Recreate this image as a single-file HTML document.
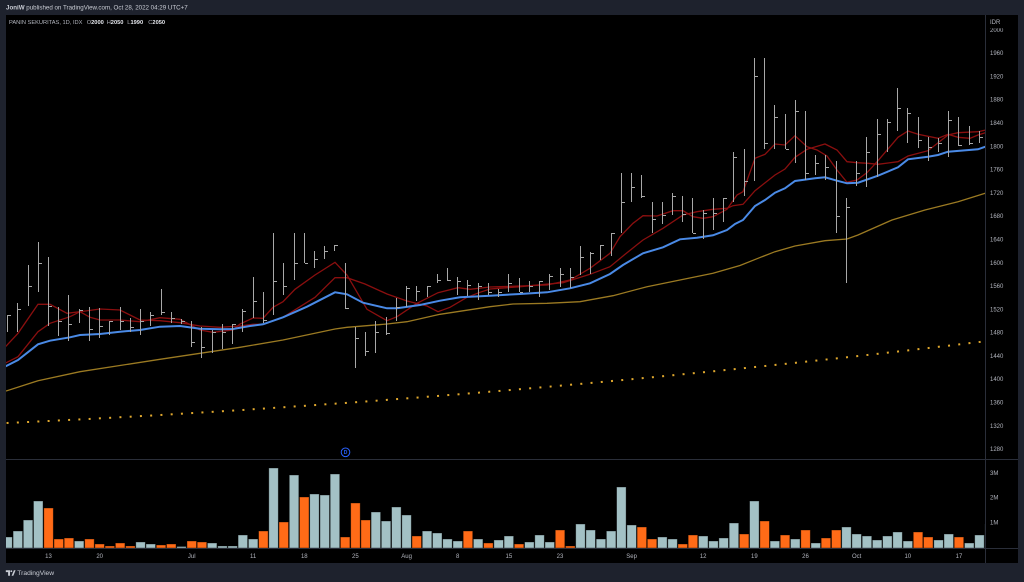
<!DOCTYPE html>
<html><head><meta charset="utf-8"><style>
html,body{margin:0;padding:0;background:#1e222d;width:1024px;height:582px;overflow:hidden}
svg{position:absolute;left:0;top:0;display:block}
</style></head><body>
<svg width="1024" height="582" viewBox="0 0 1024 582" xmlns="http://www.w3.org/2000/svg" font-family="'Liberation Sans', sans-serif">
<defs>
<clipPath id="cp"><rect x="6" y="15" width="979" height="444"/></clipPath>
<clipPath id="cv"><rect x="6" y="459.5" width="979" height="88.5"/></clipPath>
<clipPath id="c2k"><rect x="986" y="28.3" width="32" height="6"/></clipPath>
</defs>
<rect width="1024" height="582" fill="#1e222d"/>
<rect x="6" y="15" width="1012" height="548" fill="#000"/>
<!-- header -->
<text x="6" y="9.6" font-size="6.2" fill="#c9ccd4"><tspan font-weight="bold">JoniW</tspan> published on TradingView.com, Oct 28, 2022 04:29 UTC+7</text>
<!-- legend -->
<g font-size="5.7" fill="#b2b5be">
<text x="9" y="24">PANIN SEKURITAS, 1D, IDX</text>
<text x="86.7" y="24">O<tspan fill="#e6e8ee" font-weight="bold">2000</tspan></text>
<text x="106.7" y="24">H<tspan fill="#e6e8ee" font-weight="bold">2050</tspan></text>
<text x="127.3" y="24">L<tspan fill="#e6e8ee" font-weight="bold">1990</tspan></text>
<text x="148.3" y="24">C<tspan fill="#e6e8ee" font-weight="bold">2050</tspan></text>
</g>
<!-- pane borders -->
<g stroke="#2a2e39" stroke-width="1" shape-rendering="crispEdges">
<line x1="985.5" y1="15" x2="985.5" y2="563"/>
<line x1="6" y1="459.5" x2="1018" y2="459.5"/>
<line x1="6" y1="548.5" x2="1018" y2="548.5"/>
</g>
<!-- price pane -->
<g clip-path="url(#cp)">
<path d="M6.58 423.02 Q495.79 400.28 985 341.3" fill="none" stroke="#e0a82e" stroke-width="2" stroke-dasharray="2 8.27"/>
<polyline fill="none" stroke="#9b7a22" stroke-width="1.3" points="6,391 38,380.7 80,371.7 160,359.3 240,347.3 283,340 335,329 347,327.3 387,324 407,321.7 440,314.3 490,306.7 513,304 547,303.3 580,301.7 613,295.7 647,286.7 680,280 713,273.3 740,265.5 758,258.3 775,251.7 795,246 825,240.7 847,239 858,235 892,220 925,210 958,201.7 986,193"/>
<polyline fill="none" stroke="#8a0f0f" stroke-width="1.3" points="5,363.3 18,356.7 38,331.7 50,323.3 70,316.7 80,311.7 100,309 120,310 140,320 160,320.7 180,322.7 200,326 220,327.3 240,326 253,324.3 263,324.3 283,317.3 315,297.3 335,277.7 347,277.7 365,284 387,294 407,301 427,306 438,311.7 450,307.3 467,297.3 480,292.3 490,289 520,286.7 563,282.7 590,274.3 610,266.7 627,252.7 643,240 663,228.3 683,215 697,211.7 713,209.3 727,208.3 733,205.7 743,204.3 755,190.7 775,175 785,169 795,157.3 807,149.3 825,144 837,150 847,161.7 857,162.7 868,163.3 878,164.3 898,161.7 908,156 928,150.7 948,135 958,132.7 978,131.7 986,130"/>
<polyline fill="none" stroke="#8a0f0f" stroke-width="1.3" points="5,347.3 18,333.3 38,304.3 50,304.3 67,313.3 80,311.7 90,317.3 100,320 120,320 140,321.7 160,317.7 180,319.3 200,330 213,332.3 233,330 240,324 253,318 263,318.3 273,307.3 283,301.7 295,289.3 315,275 335,262.3 347,275 367,309.3 387,320.7 397,316.7 417,303.3 438,292.7 458,287.7 470,289.3 490,287 500,286.7 520,286 547,285 570,280 590,268.3 610,253.3 620,236.7 633,223.3 643,215.7 657,216 673,210.7 683,210.7 693,216.7 703,218.3 713,216.7 727,209.3 737,195 743,191.7 755,158.3 765,154.3 775,144 785,145 795,135.7 807,146.7 817,150 827,156 837,170 847,182.3 857,180 867,172.7 878,160.7 898,137.3 908,131 918,134.3 938,138.3 948,134.3 958,137.3 970,138.3 978,135 986,132.5"/>
<polyline fill="none" stroke="#4a8ae6" stroke-width="2" points="5,366.7 18,360 38,344.3 50,340.7 70,337.3 80,335 100,334 120,331.7 140,330 160,326.7 180,326 200,328.7 220,329.3 233,329 250,326 263,324.3 283,317.3 307,306.7 335,292.3 347,294.3 363,302.7 387,308.3 397,308.3 420,305 440,300.7 460,297.3 490,295.7 520,294 547,292.3 570,288.3 590,283.3 610,274 623,265 643,253.3 663,247.3 680,239.3 697,237.7 713,235.3 727,230 735,224 743,220 755,206 765,200 775,192.7 785,188.3 795,181 815,178.3 825,177.3 837,180.7 847,183.3 858,182.7 878,175.7 898,167.3 908,159.3 928,156.7 938,155 948,151.7 978,149.3 986,146.5"/>
<path fill="none" stroke="#a8a8a8" stroke-width="1" shape-rendering="crispEdges" d="M7.5 315V332M8 315.5h3M17.5 303V332M18 309.5h3M28.5 265V306M29 286.5h3M38.5 242V292M39 263.5h3M48.5 257V326M49 306.5h3M58.5 307V336M59 321.5h3M68.5 295V341M69 324.5h3M79.5 309V323M80 310.5h3M89.5 307V341M90 329.5h3M99.5 308V338M100 326.5h3M109.5 321V335M110 321.5h3M120.5 307V330M121 321.5h3M130.5 318V332M131 327.5h3M140.5 309V335M141 321.5h3M150.5 312V326M151 315.5h3M161.5 289V315M162 312.5h3M171.5 312V323M172 318.5h3M181.5 319V324M182 321.5h3M191.5 321V347M192 342.5h3M201.5 327V358M202 347.5h3M212.5 330V353M213 332.5h3M222.5 324V349M223 332.5h3M232.5 324V344M233 324.5h3M242.5 309V332M243 311.5h3M253.5 277V318M254 301.5h3M263.5 292V323M264 320.5h3M273.5 233V315M274 281.5h3M283.5 263V295M284 286.5h3M294.5 233V280M295 263.5h3M304.5 233V263M305 263.5h3M314.5 251V268M315 259.5h3M324.5 246V259M325 251.5h3M334.5 245V251M335 245.5h3M345.5 263V309M346 308.5h3M355.5 327V368M356 338.5h3M365.5 332V356M366 351.5h3M375.5 321V353M376 332.5h3M386.5 317V335M387 333.5h3M396.5 298V321M397 307.5h3M406.5 286V307M407 288.5h3M416.5 286V301M417 291.5h3M427.5 286V297M428 286.5h3M437.5 274V283M438 280.5h3M447.5 268V281M448 280.5h3M457.5 277V295M458 281.5h3M467.5 280V296M468 285.5h3M478.5 283V300M479 286.5h3M488.5 283V295M489 292.5h3M498.5 289V297M499 292.5h3M508.5 274V292M509 283.5h3M519.5 278V292M520 292.5h3M529.5 281V292M530 286.5h3M539.5 281V297M540 281.5h3M549.5 274V290M550 276.5h3M560.5 268V287M561 274.5h3M570.5 268V288M571 277.5h3M580.5 246V275M581 257.5h3M590.5 252V274M591 253.5h3M600.5 245V260M601 245.5h3M611.5 233V256M612 233.5h3M621.5 173V233M622 202.5h3M631.5 173V202M632 187.5h3M641.5 175V198M642 196.5h3M652.5 202V233M653 219.5h3M662.5 202V224M663 215.5h3M672.5 193V215M673 196.5h3M682.5 196V222M683 214.5h3M692.5 198V233M693 233.5h3M703.5 210V239M704 213.5h3M713.5 198V230M714 213.5h3M723.5 198V222M724 198.5h3M733.5 152V202M734 157.5h3M744.5 149V196M745 181.5h3M754.5 58V181M755 76.5h3M764.5 58V149M765 143.5h3M774.5 105V149M775 117.5h3M785.5 114V149M786 149.5h3M795.5 100V163M796 111.5h3M805.5 111V180M806 173.5h3M815.5 155V175M816 163.5h3M825.5 155V180M826 167.5h3M836.5 161V233M837 216.5h3M846.5 198V283M847 207.5h3M856.5 161V186M857 173.5h3M866.5 137V187M867 152.5h3M877.5 119V177M878 134.5h3M887.5 119V152M888 122.5h3M897.5 88V131M898 108.5h3M907.5 108V143M908 113.5h3M918.5 117V148M919 140.5h3M928.5 137V161M929 147.5h3M938.5 138V152M939 143.5h3M948.5 111V157M949 120.5h3M958.5 117V146M959 145.5h3M969.5 126V145M970 143.5h3M979.5 131V143M980 137.5h3"/>
</g>
<!-- dividend marker -->
<circle cx="345.5" cy="452.3" r="4.3" fill="#000" stroke="#2962ff" stroke-width="1"/>
<text x="345.5" y="454.1" font-size="5" fill="#2962ff" text-anchor="middle" font-weight="bold">D</text>
<!-- volume -->
<g clip-path="url(#cv)" stroke="#000" stroke-opacity="0.45" stroke-width="0.8">
<g fill="#a3c1c5">
<rect x="2.8" y="537" width="9.5" height="11"/><rect x="13.1" y="531" width="9.5" height="17"/><rect x="23.3" y="520" width="9.5" height="28"/><rect x="33.5" y="501" width="9.5" height="47"/><rect x="74.4" y="541" width="9.5" height="7"/><rect x="135.8" y="542" width="9.5" height="6"/><rect x="146" y="544" width="9.5" height="4"/><rect x="176.7" y="546.5" width="9.5" height="1.5"/><rect x="207.4" y="543" width="9.5" height="5"/><rect x="217.7" y="546" width="9.5" height="2"/><rect x="227.9" y="546" width="9.5" height="2"/><rect x="238.1" y="535" width="9.5" height="13"/><rect x="248.4" y="539" width="9.5" height="9"/><rect x="268.8" y="468" width="9.5" height="80"/><rect x="289.3" y="475" width="9.5" height="73"/><rect x="309.7" y="494" width="9.5" height="54"/><rect x="320" y="495" width="9.5" height="53"/><rect x="330.2" y="474" width="9.5" height="74"/><rect x="371.1" y="512" width="9.5" height="36"/><rect x="381.3" y="521" width="9.5" height="27"/><rect x="391.6" y="507" width="9.5" height="41"/><rect x="401.8" y="515" width="9.5" height="33"/><rect x="422.3" y="531" width="9.5" height="17"/><rect x="432.5" y="533" width="9.5" height="15"/><rect x="442.7" y="539" width="9.5" height="9"/><rect x="453" y="541" width="9.5" height="7"/><rect x="473.4" y="539" width="9.5" height="9"/><rect x="493.9" y="540" width="9.5" height="8"/><rect x="504.1" y="536" width="9.5" height="12"/><rect x="524.6" y="542" width="9.5" height="6"/><rect x="534.8" y="535" width="9.5" height="13"/><rect x="545" y="542" width="9.5" height="6"/><rect x="575.7" y="524" width="9.5" height="24"/><rect x="585.9" y="530" width="9.5" height="18"/><rect x="596.2" y="539" width="9.5" height="9"/><rect x="606.4" y="531" width="9.5" height="17"/><rect x="616.6" y="487" width="9.5" height="61"/><rect x="626.9" y="525" width="9.5" height="23"/><rect x="657.6" y="537" width="9.5" height="11"/><rect x="667.8" y="539" width="9.5" height="9"/><rect x="698.5" y="536" width="9.5" height="12"/><rect x="708.7" y="541" width="9.5" height="7"/><rect x="718.9" y="538" width="9.5" height="10"/><rect x="729.2" y="523" width="9.5" height="25"/><rect x="749.6" y="501" width="9.5" height="47"/><rect x="770.1" y="541" width="9.5" height="7"/><rect x="790.5" y="539" width="9.5" height="9"/><rect x="811" y="543" width="9.5" height="5"/><rect x="841.7" y="527" width="9.5" height="21"/><rect x="851.9" y="534" width="9.5" height="14"/><rect x="862.2" y="536" width="9.5" height="12"/><rect x="872.4" y="540" width="9.5" height="8"/><rect x="882.6" y="536" width="9.5" height="12"/><rect x="892.8" y="532" width="9.5" height="16"/><rect x="903.1" y="541" width="9.5" height="7"/><rect x="933.8" y="540" width="9.5" height="8"/><rect x="944" y="534" width="9.5" height="14"/><rect x="964.5" y="543" width="9.5" height="5"/><rect x="974.7" y="535" width="9.5" height="13"/><rect x="984.9" y="524" width="9.5" height="24"/>
</g>
<g fill="#ff6b17">
<rect x="43.8" y="508" width="9.5" height="40"/><rect x="54" y="539" width="9.5" height="9"/><rect x="64.2" y="538" width="9.5" height="10"/><rect x="84.7" y="539" width="9.5" height="9"/><rect x="94.9" y="544" width="9.5" height="4"/><rect x="105.1" y="546" width="9.5" height="2"/><rect x="115.4" y="543" width="9.5" height="5"/><rect x="125.6" y="546" width="9.5" height="2"/><rect x="156.3" y="545" width="9.5" height="3"/><rect x="166.5" y="544" width="9.5" height="4"/><rect x="187" y="541" width="9.5" height="7"/><rect x="197.2" y="542" width="9.5" height="6"/><rect x="258.6" y="531" width="9.5" height="17"/><rect x="279" y="522" width="9.5" height="26"/><rect x="299.5" y="497" width="9.5" height="51"/><rect x="340.4" y="537" width="9.5" height="11"/><rect x="350.7" y="503" width="9.5" height="45"/><rect x="360.9" y="520" width="9.5" height="28"/><rect x="412" y="536" width="9.5" height="12"/><rect x="463.2" y="531" width="9.5" height="17"/><rect x="483.6" y="543" width="9.5" height="5"/><rect x="514.3" y="544" width="9.5" height="4"/><rect x="555.3" y="530" width="9.5" height="18"/><rect x="565.5" y="546" width="9.5" height="2"/><rect x="637.1" y="527" width="9.5" height="21"/><rect x="647.3" y="539" width="9.5" height="9"/><rect x="678" y="544" width="9.5" height="4"/><rect x="688.2" y="535" width="9.5" height="13"/><rect x="739.4" y="534" width="9.5" height="14"/><rect x="759.9" y="521" width="9.5" height="27"/><rect x="780.3" y="535" width="9.5" height="13"/><rect x="800.8" y="530" width="9.5" height="18"/><rect x="821.2" y="538" width="9.5" height="10"/><rect x="831.5" y="530" width="9.5" height="18"/><rect x="913.3" y="532" width="9.5" height="16"/><rect x="923.5" y="537" width="9.5" height="11"/><rect x="954.2" y="537" width="9.5" height="11"/>
</g>
</g>
<!-- price axis labels -->
<g font-size="6" fill="#b2b5be">
<text x="990" y="23.8">IDR</text>
<text x="990" y="31.8" clip-path="url(#c2k)">2000</text>
<text x="990" y="55.1">1960</text>
<text x="990" y="78.4">1920</text>
<text x="990" y="101.7">1880</text>
<text x="990" y="125">1840</text>
<text x="990" y="148.3">1800</text>
<text x="990" y="171.6">1760</text>
<text x="990" y="194.9">1720</text>
<text x="990" y="218.2">1680</text>
<text x="990" y="241.5">1640</text>
<text x="990" y="264.8">1600</text>
<text x="990" y="288.1">1560</text>
<text x="990" y="311.4">1520</text>
<text x="990" y="334.7">1480</text>
<text x="990" y="357.9">1440</text>
<text x="990" y="381.2">1400</text>
<text x="990" y="404.5">1360</text>
<text x="990" y="427.8">1320</text>
<text x="990" y="451.1">1280</text>
<text x="990" y="474.8">3M</text>
<text x="990" y="499.4">2M</text>
<text x="990" y="524.4">1M</text>
</g>
<!-- time axis labels -->
<g font-size="6" fill="#b2b5be" text-anchor="middle">
<text x="48.5" y="558.1">13</text>
<text x="99.7" y="558.1">20</text>
<text x="191.7" y="558.1">Jul</text>
<text x="253.1" y="558.1">11</text>
<text x="304.3" y="558.1">18</text>
<text x="355.4" y="558.1">25</text>
<text x="406.6" y="558.1">Aug</text>
<text x="457.7" y="558.1">8</text>
<text x="508.9" y="558.1">15</text>
<text x="560" y="558.1">23</text>
<text x="631.6" y="558.1">Sep</text>
<text x="703.2" y="558.1">12</text>
<text x="754.4" y="558.1">19</text>
<text x="805.5" y="558.1">26</text>
<text x="856.7" y="558.1">Oct</text>
<text x="907.8" y="558.1">10</text>
<text x="959" y="558.1">17</text>
</g>
<!-- footer -->
<g fill="#c9ccd4">
<path d="M5.8 570.3h4.2v5.4h-1.9v-3.6H5.8z"/>
<circle cx="11.3" cy="571.2" r="0.95"/>
<path d="M11.6 575.7l2.3-5.4h1.7l-2.3 5.4z"/>
<text x="17.3" y="575.1" font-size="6.7">TradingView</text>
</g>
</svg>
</body></html>
